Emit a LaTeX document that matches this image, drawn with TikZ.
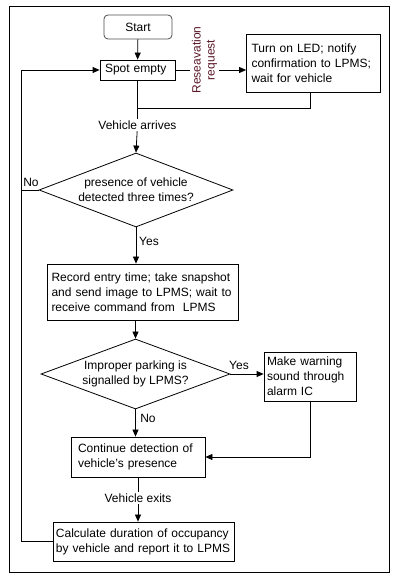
\documentclass[tikz,border=0pt]{standalone}
\usepackage{fontspec}
\setmainfont{Liberation Sans}
\usepackage{tikz}
\usetikzlibrary{shapes.geometric, arrows.meta}

\definecolor{rsvtext}{RGB}{90,25,40}

\begin{document}
\begin{tikzpicture}[x=1pt, y=1pt, line width=0.8pt,
    every node/.style={font=\fontsize{12}{15}\selectfont},
    box/.style={draw, rectangle, align=left, inner xsep=5pt, inner ysep=2pt},
    dec/.style={draw, diamond, inner sep=0pt},
    lbl/.style={inner sep=1.5pt},
    arr/.style={-{Triangle[length=7pt,width=6pt]}}]
  \useasboundingbox (0,0) rectangle (402,582);
  \draw (9,10) rectangle (389,576);

  \node[draw=black!70, rounded corners=4pt, minimum width=68pt, minimum height=24pt] (start) at (138,555) {Start};
  \node[box, text width=65pt, minimum height=20pt, inner xsep=5pt] (spot) at (137.5,512) {Spot empty};
  \node[box, text width=124pt, minimum height=58pt] (rsvbox) at (313.5,519)
    {Turn on LED; notify\\confirmation to LPMS;\\wait for vehicle};

  \node[dec, minimum width=194pt, minimum height=74pt,
        label={[align=center]center:presence of vehicle\\detected three times?}] (dec1) at (136,392) {};
  \node[box, text width=182pt, minimum height=56pt, inner xsep=4.5pt] (record) at (142.5,290)
    {Record entry time; take snapshot\\and send image to LPMS; wait to\\receive command from\ \ LPMS};

  \node[dec, minimum width=189pt, minimum height=70pt,
        label={[align=center]center:Improper parking is\\signalled by LPMS?}] (dec2) at (135.5,208) {};
  \node[box, text width=86pt, minimum height=49pt, inner xsep=3pt] (warn) at (310,205.5)
    {Make warning\\sound through\\alarm IC};

  \node[box, text width=120pt, minimum height=40pt, inner xsep=7pt] (cont) at (138,125)
    {Continue detection of\\vehicle's presence};
  \node[box, text width=175pt, minimum height=39pt, inner xsep=3pt] (calc) at (143.5,40.5)
    {Calculate duration of occupancy\\by vehicle and report it to LPMS};

  % labels on the connectors
  \node[lbl] (arrives) at (137.5,457) {Vehicle arrives};
  \node[lbl] (exits) at (138,84) {Vehicle exits};
  \node[lbl] (no1) at (31,400) {No};
  \node[lbl] (yes1) at (149,341) {Yes};
  \node[lbl] (yes2) at (239,217) {Yes};
  \node[lbl] (no2) at (148,164) {No};

  \coordinate (join) at (137.5,474);
  \coordinate (loop) at (21,392);

  \draw[arr] (start) -- (spot);
  \draw[arr] (spot.east) -- (spot.east -| rsvbox.west);
  \node[lbl, rotate=90, align=center, text=rsvtext, fill=white,
        font=\fontsize{12}{14}\selectfont] (rsv) at (204.5,522) {Reseavation\\request};
  \draw (rsvbox.south -| 310,0) |- (join);
  \draw (spot.south) -- (join) -- (arrives);
  \draw[arr] (arrives) -- (dec1.north);

  \draw[arr] (dec1.west) -- (loop) |- (spot.west);
  \draw[arr] (dec1.south) -- (record.north -| dec1.south);
  \draw[arr] (record.south -| dec2.north) -- (dec2.north);
  \draw[arr] (dec2.east) -- (warn.west |- dec2.east);
  \draw[arr] (dec2.south) -- (cont.north -| dec2.south);
  \draw[arr] (warn.south) |- (cont.east);
  \draw (cont.south) -- (exits);
  \draw[arr] (exits) -- (exits |- calc.north);
  \draw (calc.west) -| (loop);
\end{tikzpicture}
\end{document}
